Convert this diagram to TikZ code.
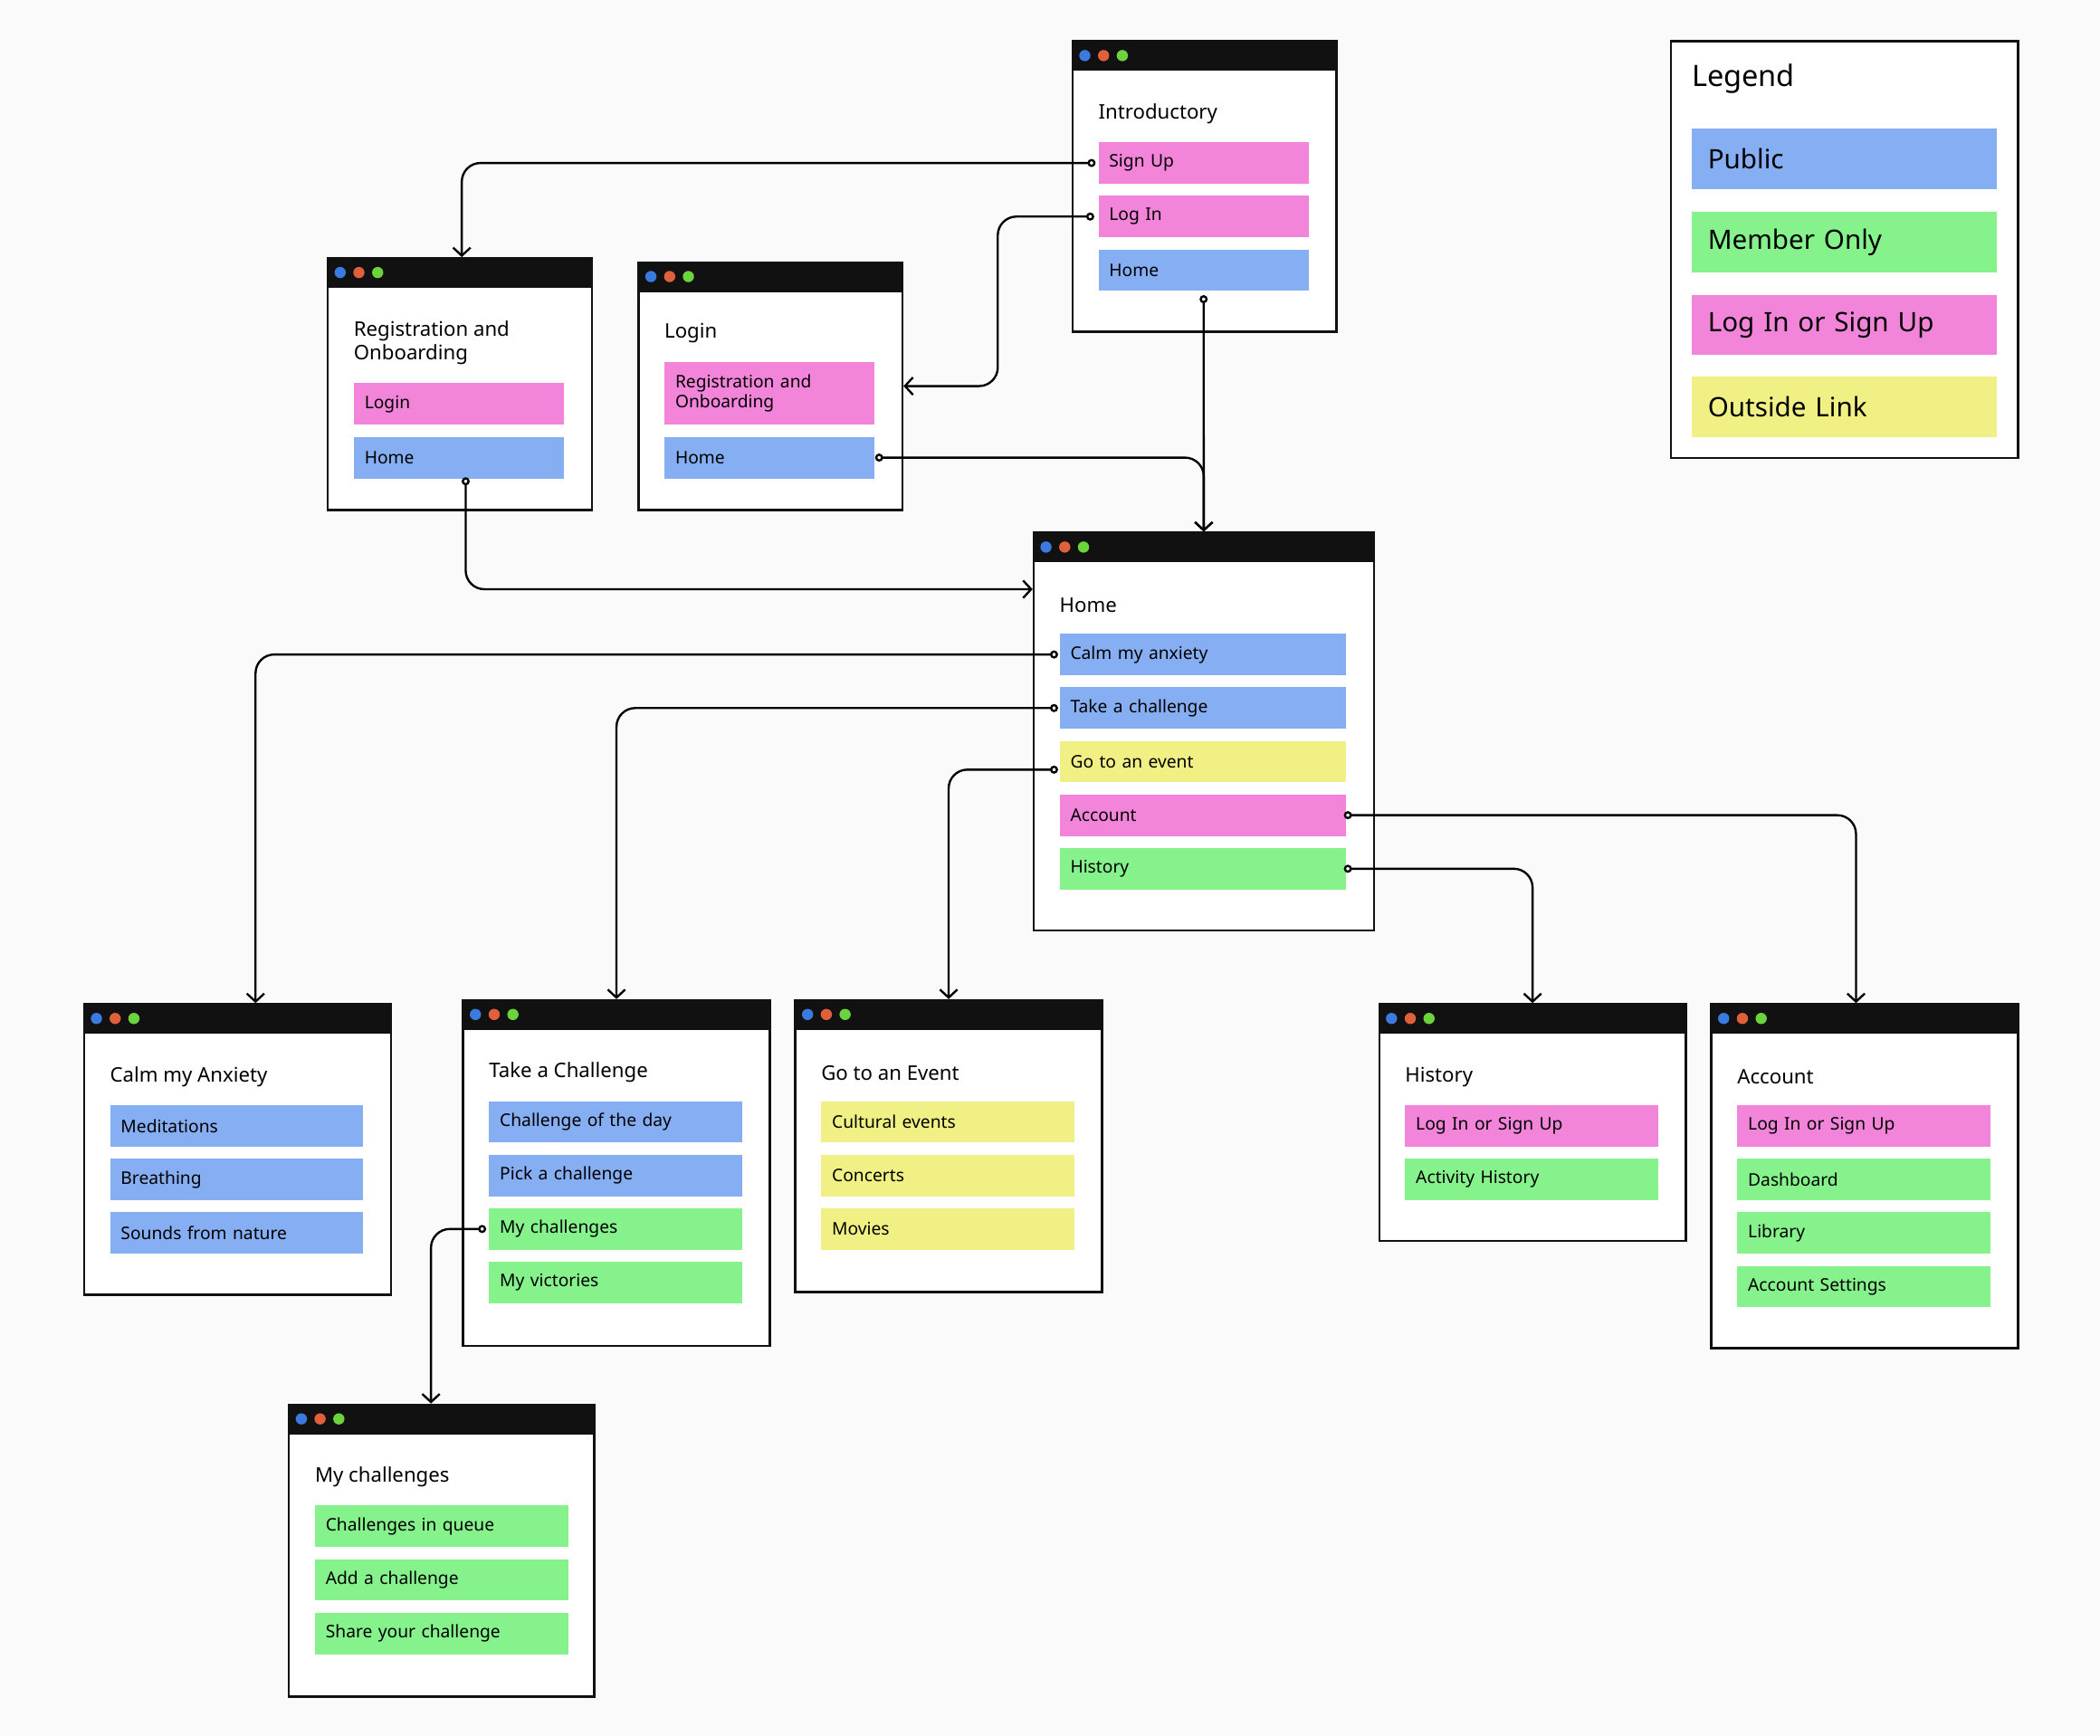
\documentclass[tikz,border=0pt]{standalone}
\usepackage{fontspec}
\setmainfont{Noto Sans}
\usetikzlibrary{arrows.meta,calc}
\definecolor{pub}{HTML}{86AEF2}
\definecolor{mem}{HTML}{86F28C}
\definecolor{log}{HTML}{F285DA}
\definecolor{out}{HTML}{F0F085}
\definecolor{bg}{HTML}{FAFAFA}
\definecolor{barc}{HTML}{111111}
\definecolor{d1}{HTML}{3B7BE0}
\definecolor{d2}{HTML}{E0603B}
\definecolor{d3}{HTML}{6BD33B}
\tikzset{
 win/.style={draw=barc,fill=white,line width=1.6pt,inner sep=0pt,anchor=north west},
 item/.style={anchor=north west,minimum height=31pt,inner xsep=8pt,inner ysep=0pt,text width=#1,align=left,font=\fontsize{13}{15}\selectfont},
 item/.default=173pt,
 ttl/.style={anchor=west,font=\fontsize{15}{18}\selectfont,align=left,inner sep=0pt},
 leg/.style={anchor=north west,minimum height=45pt,minimum width=228pt,inner xsep=12pt,text width=204pt,font=\fontsize{20}{24}\selectfont},
 conn/.style={line width=1.6pt,rounded corners=14pt,{Circle[open,fill=white,length=6pt,width=6pt]}-{Straight Barb[length=6pt,width=13pt,line width=1.6pt]}},
}
\newcommand\mywin[6]{%
 \node[win,minimum width=#4pt-#2pt,minimum height=#5pt-#3pt] (#1) at (#2,#3) {};
 \fill[barc] (#2,#3) rectangle (#4,#3+23);
 \fill[d1] (#2+10,#3+11.5) circle (4.2);
 \fill[d2] (#2+24,#3+11.5) circle (4.2);
 \fill[d3] (#2+38,#3+11.5) circle (4.2);
 \node[ttl] (#1-t) at (#2+20,#3+#6) {\strut};}
\newcommand\itm[6][173pt]{\node[item=#1,fill=#3] (#2) at (#4,#5) {#6};}
\begin{document}
\begin{tikzpicture}[x=1pt,y=-1pt]
\fill[bg] (0,0) rectangle (1568,1296);
\useasboundingbox (0,0) rectangle (1568,1296);
% Introductory
\mywin{intro}{800}{30}{997}{247}{55}
\node[ttl] at (820,85) {Introductory};
\itm[141pt]{isu}{log}{820}{106}{Sign Up}
\itm[141pt]{ili}{log}{820}{146}{Log In}
\itm[141pt]{ih}{pub}{820}{186}{Home}
% Registration
\mywin{reg}{244}{192}{441}{380}{55}
\node[ttl] at (264,256) {Registration and\\Onboarding};
\itm[141pt]{rl}{log}{264}{286}{Login}
\itm[141pt]{rh}{pub}{264}{326}{Home}
% Login
\mywin{login}{476}{195}{673}{380}{55}
\node[ttl] at (496,249) {Login};
\node[item=141pt,fill=log,minimum height=47pt] (lr) at (496,270) {Registration and\\Onboarding};
\itm[141pt]{lh}{pub}{496}{326}{Home}
% Home
\mywin{home}{771}{397}{1025}{694}{55}
\node[ttl] at (791,452) {Home};
\itm[198pt]{hc}{pub}{791}{473}{Calm my anxiety}
\itm[198pt]{ht}{pub}{791}{513}{Take a challenge}
\itm[198pt]{he}{out}{791}{553}{Go to an event}
\itm[198pt]{ha}{log}{791}{593}{Account}
\itm[198pt]{hh}{mem}{791}{633}{History}
% Calm
\mywin{calm}{62}{749}{291}{966}{55}
\node[ttl] at (82,804) {Calm my Anxiety};
\itm{c1}{pub}{82}{825}{Meditations}
\itm{c2}{pub}{82}{865}{Breathing}
\itm{c3}{pub}{82}{905}{Sounds from nature}
% Take
\mywin{take}{345}{746}{574}{1004}{55}
\node[ttl] at (365,801) {Take a Challenge};
\itm{t1}{pub}{365}{822}{Challenge of the day}
\itm{t2}{pub}{365}{862}{Pick a challenge}
\itm{t3}{mem}{365}{902}{My challenges}
\itm{t4}{mem}{365}{942}{My victories}
% Event
\mywin{event}{593}{746}{822}{964}{55}
\node[ttl] at (613,801) {Go to an Event};
\itm{e1}{out}{613}{822}{Cultural events}
\itm{e2}{out}{613}{862}{Concerts}
\itm{e3}{out}{613}{902}{Movies}
% History
\mywin{hist}{1029}{749}{1258}{926}{55}
\node[ttl] at (1049,804) {History};
\itm{hi1}{log}{1049}{825}{Log In or Sign Up}
\itm{hi2}{mem}{1049}{865}{Activity History}
% Account
\mywin{acc}{1277}{749}{1506}{1006}{55}
\node[ttl] at (1297,804) {Account};
\itm{a1}{log}{1297}{825}{Log In or Sign Up}
\itm{a2}{mem}{1297}{865}{Dashboard}
\itm{a3}{mem}{1297}{905}{Library}
\itm{a4}{mem}{1297}{945}{Account Settings}
% My challenges
\mywin{myc}{215}{1048}{443}{1266}{55}
\node[ttl] at (235,1103) {My challenges};
\itm{m1}{mem}{235}{1124}{Challenges in queue}
\itm{m2}{mem}{235}{1164}{Add a challenge}
\itm{m3}{mem}{235}{1204}{Share your challenge}
% Legend
\node[draw=barc,line width=1.6pt,fill=white,anchor=north west,minimum width=259pt,minimum height=311pt] (legend) at (1247,30) {};
\node[anchor=west,inner sep=0pt,font=\fontsize{22}{26}\selectfont\bfseries] (lt) at (1263,59) {Legend};
\node[leg,fill=pub] (lp) at (1263,96) {Public};
\node[leg,fill=mem] (lm) at (1263,158) {Member Only};
\node[leg,fill=log] (ll) at (1263,220) {Log In or Sign Up};
\node[leg,fill=out] (lo) at (1263,281) {Outside Link};
% connectors
\draw[conn] ([xshift=-2pt]isu.west) -| ([xshift=1.5pt]reg.north);
\draw[conn] ([xshift=-3pt]ili.west) -| (745,200) |- (login.east);
\draw[conn] ([yshift=-3pt]ih.south) -- (home.north);
\draw[conn] (lh.east) -| (home.north);
\draw[conn] ([xshift=5pt,yshift=1pt]rh.south) |- ([yshift=-43pt]home.north west);
\draw[conn] ([xshift=-1pt]hc.west) -| ([xshift=13.5pt]calm.north);
\draw[conn] ([xshift=-1pt]ht.west) -| (take.north);
\draw[conn] ([xshift=-1pt,yshift=-6pt]he.west) -| (event.north);
\draw[conn] ([xshift=-2pt]ha.east) -| ([xshift=-6.5pt]acc.north);
\draw[conn] ([xshift=-2pt]hh.east) -| (hist.north);
\draw[conn] ([xshift=-2pt]t3.west) -| ([xshift=-8pt]myc.north);
\end{tikzpicture}
\end{document}
